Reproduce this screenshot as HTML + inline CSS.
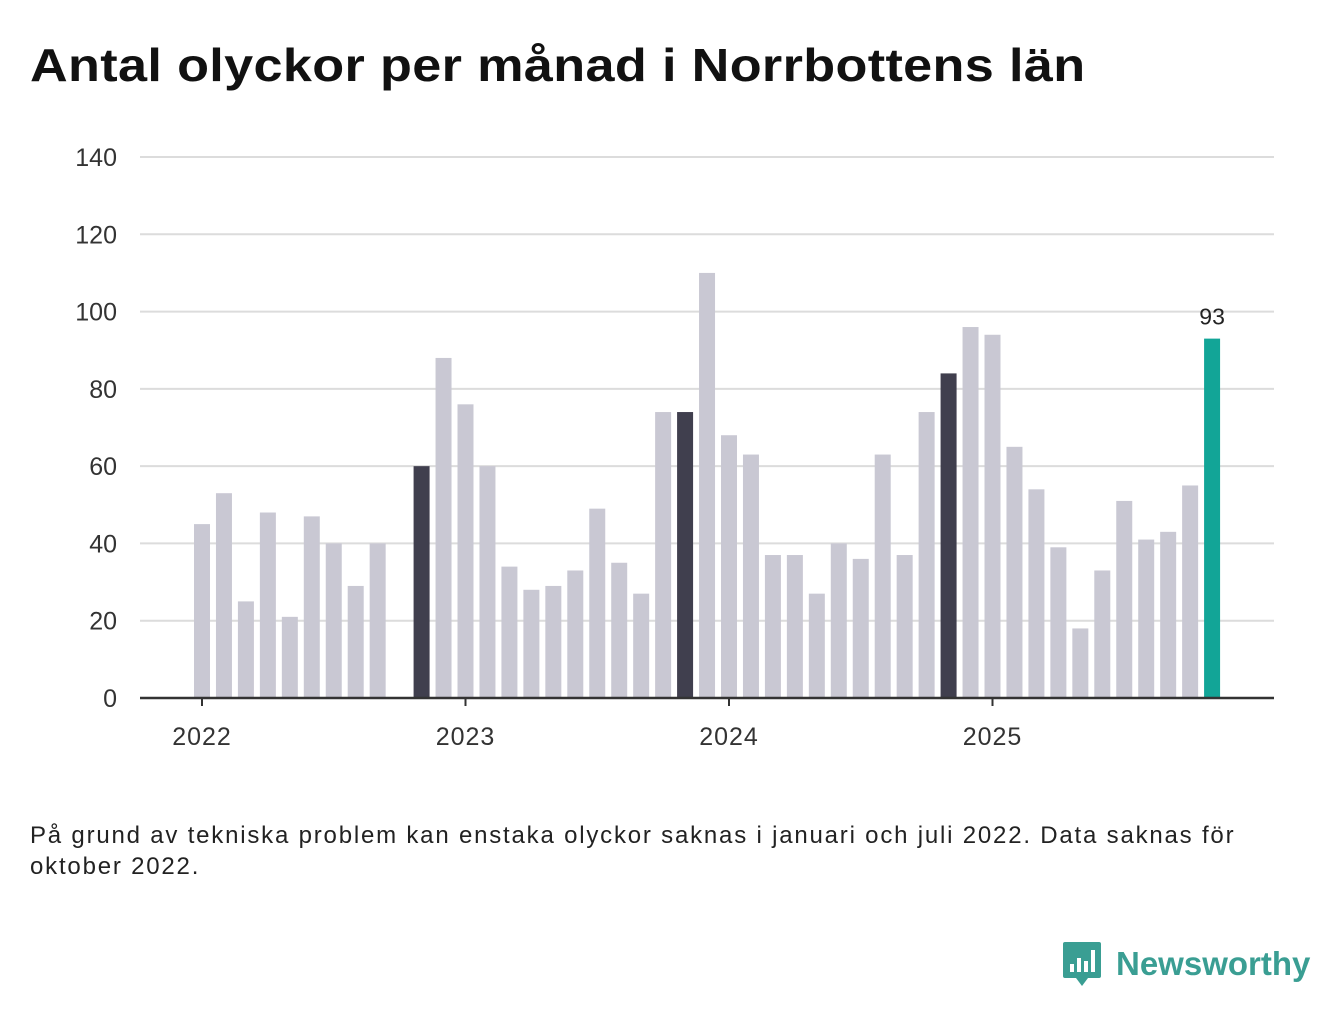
<!DOCTYPE html>
<html><head><meta charset="utf-8"><style>
body{margin:0;width:1340px;height:1020px;background:#fff;font-family:"Liberation Sans",sans-serif;overflow:hidden}
h1{position:absolute;left:30px;top:38px;margin:0;font-size:46px;font-weight:bold;color:#111;letter-spacing:0.3px;transform:scaleX(1.135);transform-origin:0 0;white-space:nowrap}
.note{position:absolute;left:30px;top:820px;font-size:24px;line-height:31px;color:#222;width:1230px;letter-spacing:1.8px}
.logo{position:absolute;left:1062px;top:940px;display:flex;align-items:center}
.logo span{font-size:33px;font-weight:bold;color:#3a9e93;margin-left:14px}
</style></head><body>
<h1>Antal olyckor per månad i Norrbottens län</h1>
<svg id="chart" width="1340" height="800" style="position:absolute;left:0;top:0"></svg>
<div class="note">På grund av tekniska problem kan enstaka olyckor saknas i januari och juli 2022. Data saknas för oktober 2022.</div>
<div class="logo">
<svg width="40" height="48" viewBox="0 0 40 48"><path d="M3 2h34a2 2 0 0 1 2 2v32a2 2 0 0 1-2 2H26l-6 8-6-8H3a2 2 0 0 1-2-2V4a2 2 0 0 1 2-2z" fill="#3a9e93"/><rect x="8" y="24" width="4" height="8" fill="#fff"/><rect x="15" y="18" width="4" height="14" fill="#fff"/><rect x="22" y="21" width="4" height="11" fill="#fff"/><rect x="29" y="10" width="4" height="22" fill="#fff"/></svg>
<span>Newsworthy</span></div>
<script>
const months = [];
for (let y = 2022; y <= 2025; y++) for (let m = 1; m <= 12; m++) months.push(y + "-" + m);
const values = [45,53,25,48,21,47,40,29,40,null,60,88,
76,60,34,28,29,33,49,35,27,74,74,110,
68,63,37,37,27,40,36,63,37,74,84,96,
94,65,54,39,18,33,51,41,43,55,93];
const yTicks = [0,20,40,60,80,100,120,140];
const yearLabels = ["2022","2023","2024","2025"];
const NS = "http://www.w3.org/2000/svg";
const svg = document.getElementById("chart");
const x0 = 202, step = 263.5/12, yBase = 698, yScale = (698-157)/140;
const xPos = i => x0 + i*step;
const yPos = v => yBase - v*yScale;
function mk(t, a){const e=document.createElementNS(NS,t);for(const k in a)e.setAttribute(k,a[k]);svg.appendChild(e);return e;}
yTicks.forEach(t=>{
  if(t>0){const l=mk("line",{x1:140,x2:1274,y1:yPos(t),y2:yPos(t),stroke:"#dcdcdc","stroke-width":2});
  
  }
  const tx=mk("text",{x:117,y:yPos(t)+9,"text-anchor":"end","font-size":25,fill:"#333","font-family":"Liberation Sans, sans-serif"});
  tx.textContent=t;
  
  
});
const n = values.length;
values.forEach((v,i)=>{
  if(v==null) return;
  const mon = i%12;
  let fill="#c9c8d3";
  if(i===n-1) fill="#12a597"; else if(mon===10) fill="#403f4e";
  const r=mk("rect",{x:xPos(i)-8,y:yPos(v),width:16,height:v*yScale,fill:fill});
  
  
});
const last=n-1;
const lbl=mk("text",{x:xPos(last),y:yPos(values[last])-14,"text-anchor":"middle","font-size":23,fill:"#222","font-family":"Liberation Sans, sans-serif"});
lbl.textContent=values[last];


const ax=mk("line",{x1:140,x2:1274,y1:yBase,y2:yBase,stroke:"#333","stroke-width":2.5});


yearLabels.forEach((y,k)=>{
  const x=xPos(k*12);
  const tk=mk("line",{x1:x,x2:x,y1:yBase,y2:yBase+8,stroke:"#333","stroke-width":2});
  
  
  const t=mk("text",{x:x,y:745,"text-anchor":"middle","font-size":25,fill:"#333","font-family":"Liberation Sans, sans-serif","letter-spacing":"1"});
  t.textContent=y;
  
  
});
</script>
</body></html>
